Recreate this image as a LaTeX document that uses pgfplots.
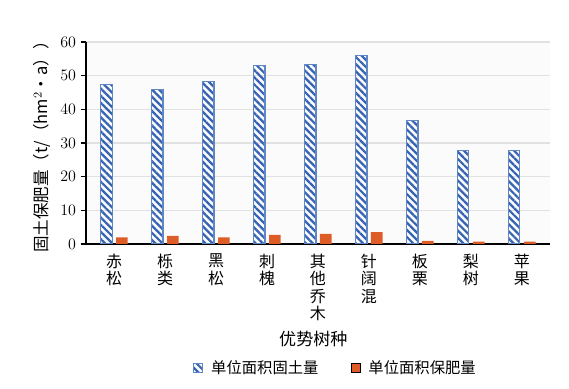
\documentclass[border=0pt]{standalone}
\usepackage{fontspec}
\usepackage{pgfplots}
\pgfplotsset{compat=1.18}
\usetikzlibrary{patterns.meta}
\newfontfamily\cjk{Noto Sans CJK SC}
\definecolor{hblue}{RGB}{55,100,178}
\definecolor{bblue}{RGB}{95,135,200}
\definecolor{borange}{RGB}{222,92,40}
\definecolor{gridg}{RGB}{225,225,225}
\begin{document}
\begin{tikzpicture}
\begin{axis}[
  at={(0,0)}, anchor=south west,
  scale only axis, width=348pt, height=151.5pt,
  ybar=3pt, bar width=8.7pt,
  xmin=-0.55, xmax=8.55, ymin=0, ymax=60,
  ytick={0,10,20,30,40,50,60},
  xtick={0,1,2,3,4,5,6,7,8},
  xticklabels={{赤\\松},{栎\\类},{黑\\松},{刺\\槐},{其\\他\\乔\\木},{针\\阔\\混},{板\\栗},{梨\\树},{苹\\果}},
  xticklabel style={align=center, font=\cjk\fontsize{12}{13}\selectfont, anchor=north},
  yticklabel style={font=\fontsize{12.5}{14}\selectfont},
  major x tick style={draw=none},
  axis lines*=left,
  axis line style={black, line width=0.8pt},
  tick align=outside,
  major tick length=4pt,
  ytick style={black, line width=0.8pt},
  ymajorgrids, grid style={gridg, line width=0.8pt},
  axis background/.style={fill=black!1.5},
  xlabel={优势树种},
  xlabel style={font=\cjk\fontsize{12.8}{14}\selectfont, at={(axis description cs:0.49,-0.47)}, anchor=center},
  ylabel={{\cjk 固土保肥量（}t/{\cjk （}hm$^2$\textbullet a{\cjk ））}},
  ylabel style={font=\cjk\fontsize{12.4}{14}\selectfont, at={(axis description cs:-0.095,0.5)}, anchor=center},
  legend columns=2,
  legend style={draw=none, fill=none, font=\cjk\fontsize{11.5}{13}\selectfont,
    at={(axis description cs:0.538,-0.614)}, anchor=center,
    /tikz/every odd column/.append style={column sep=4pt},
    /tikz/every even column/.append style={column sep=22pt}},
  legend image code/.code={\draw[#1] (0pt,-3.5pt) rectangle (7pt,3.5pt);},
]
\addplot[draw=bblue, line width=0.8pt, pattern={Lines[angle=-45, distance=3.8pt, line width=1.7pt]}, pattern color=hblue]
  coordinates {(0,47.4) (1,46.0) (2,48.4) (3,52.9) (4,53.2) (5,56.1) (6,36.8) (7,27.7) (8,27.7)};
\addlegendentry{单位面积固土量}
\addplot[draw=none, fill=borange]
  coordinates {(0,2.0) (1,2.4) (2,2.0) (3,2.7) (4,3.0) (5,3.5) (6,0.9) (7,0.7) (8,0.7)};
\addlegendentry{单位面积保肥量}
\end{axis}
\pgfresetboundingbox
\path[use as bounding box] (-64.5pt,-108.75pt) rectangle (362.25pt,183pt);
\end{tikzpicture}
\end{document}
